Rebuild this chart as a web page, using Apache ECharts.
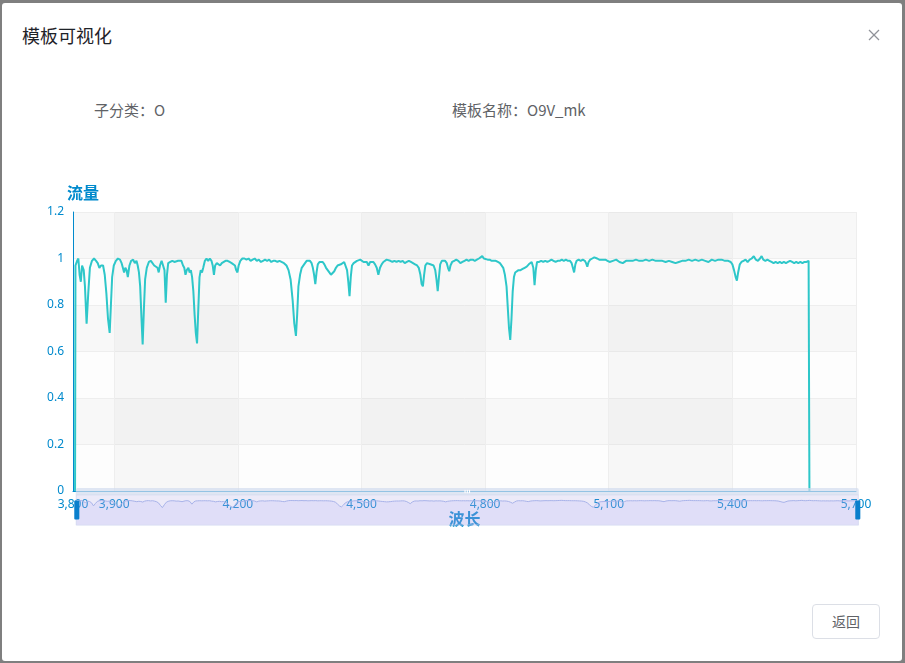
<!DOCTYPE html>
<html>
<head>
<meta charset="utf-8">
<script src="https://cdn.jsdelivr.net/npm/echarts@6/dist/echarts.min.js"></script>
<style>
html,body{margin:0;padding:0;width:905px;height:663px;overflow:hidden;background:#7f7f7f;}
#modal{position:absolute;left:2px;top:3px;width:900px;height:658px;background:#fff;border-radius:3px;}
#title{position:absolute;left:20px;top:19px;font-family:"Noto Sans CJK SC",sans-serif;font-weight:400;font-size:18px;color:#1f2329;line-height:26px;}
#close{position:absolute;left:866px;top:26px;width:12px;height:12px;}
.info{position:absolute;top:96px;font-family:"Noto Sans CJK SC",sans-serif;font-size:15px;color:#606266;line-height:22px;}
#btn{position:absolute;left:810px;top:601px;width:68px;height:35px;box-sizing:border-box;border:1px solid #dcdfe6;border-radius:4px;font-family:"Noto Sans CJK SC",sans-serif;font-size:14px;color:#606266;text-align:center;line-height:33px;}
#chart{position:absolute;left:0;top:0;width:905px;height:663px;}
</style>
</head>
<body>
<div id="modal">
  <div id="title">模板可视化</div>
  <svg id="close" viewBox="0 0 12 12"><line x1="1" y1="1" x2="11" y2="11" stroke="#909399" stroke-width="1.2"/><line x1="11" y1="1" x2="1" y2="11" stroke="#909399" stroke-width="1.2"/></svg>
  <div class="info" style="left:92px;">子分类：O</div>
  <div class="info" style="left:450px;">模板名称：O9V_mk</div>
  <div id="btn">返回</div>
</div>
<div id="chart"></div>
<script>
var seriesName = "O9V_mk";
var xAxisName = "波长";
var yAxisName = "流量";
var xMin = 3800, xMax = 5700;
var yMin = 0, yMax = 1.2, yStep = 0.2;

var wavelength = [
3805,3806,3810,3813,3816,3819,3822,3826,3829,3833,3837,3841,3846,3851,3856,3860,3864,3868,3873,3877,
3881,3885,3889,3892,3895,3899,3904,3909,3914,3918,3921,3924,3927,3930,3933,3937,3941,3946,3950,3954,
3957,3960,3963,3966,3969,3972,3975,3979,3984,3989,3993,3997,4001,4005,4008,4011,4015,4019,4022,4025,
4028,4031,4036,4041,4046,4050,4055,4059,4063,4067,4070,4073,4076,4080,4083,4086,4089,4092,4095,4098,
4101,4104,4107,4110,4113,4116,4120,4124,4128,4132,4136,4139,4142,4145,4149,4153,4157,4161,4165,4170,
4175,4180,4185,4189,4193,4196,4199,4202,4206,4211,4216,4221,4226,4231,4236,4241,4246,4251,4256,4261,
4266,4271,4276,4281,4286,4291,4296,4301,4305,4312,4318,4323,4328,4333,4337,4341,4344,4347,4351,4355,
4359,4363,4367,4371,4375,4379,4382,4385,4388,4391,4394,4398,4402,4406,4410,4414,4418,4422,4426,4430,
4434,4438,4442,4446,4450,4454,4458,4462,4465,4468,4471,4474,4477,4481,4485,4489,4493,4497,4501,4505,
4509,4513,4517,4521,4525,4529,4533,4537,4541,4545,4549,4553,4557,4561,4565,4570,4575,4580,4585,4590,
4595,4600,4605,4610,4615,4620,4625,4630,4635,4639,4643,4646,4649,4652,4655,4659,4663,4667,4671,4675,
4679,4682,4685,4688,4691,4695,4699,4703,4707,4710,4713,4716,4720,4725,4730,4735,4740,4745,4750,4755,
4760,4765,4770,4775,4780,4785,4789,4793,4797,4801,4806,4811,4816,4821,4826,4831,4836,4840,4844,4848,
4852,4855,4858,4861,4864,4867,4870,4873,4877,4881,4886,4891,4896,4901,4906,4909,4913,4917,4920,4923,
4926,4931,4936,4941,4946,4951,4956,4961,4966,4971,4976,4981,4986,4991,4996,5001,5006,5010,5013,5016,
5019,5022,5027,5032,5037,5042,5045,5048,5051,5055,5060,5065,5068,5072,5077,5082,5087,5092,5097,5102,
5110,5118,5126,5134,5142,5150,5158,5166,5174,5182,5190,5198,5206,5214,5222,5230,5238,5246,5254,5262,
5270,5278,5286,5294,5302,5310,5318,5326,5334,5342,5350,5358,5366,5374,5382,5390,5396,5400,5404,5408,
5411,5414,5418,5422,5427,5432,5437,5442,5447,5452,5457,5462,5467,5471,5475,5480,5485,5490,5495,5500,
5505,5510,5515,5520,5525,5530,5535,5540,5545,5550,5555,5560,5565,5570,5575,5580,5585,5586,5587
];
var flux = [
0,0.97,0.99,1.0,0.93,0.90,0.97,0.95,0.88,0.72,0.85,0.96,0.99,1.0,0.99,0.98,0.96,0.97,0.97,0.93,
0.85,0.74,0.68,0.80,0.92,0.97,0.99,1.0,0.995,0.98,0.96,0.94,0.96,0.95,0.92,0.97,0.99,0.995,0.98,0.99,
0.97,0.94,0.88,0.75,0.63,0.78,0.91,0.96,0.985,0.99,0.985,0.97,0.975,0.96,0.94,0.97,0.99,0.99,0.95,0.81,
0.93,0.98,0.985,0.99,0.985,0.99,0.99,0.985,0.99,0.97,0.96,0.93,0.95,0.96,0.94,0.95,0.92,0.86,0.76,0.68,
0.635,0.78,0.92,0.95,0.94,0.96,0.99,1.0,0.99,1.0,0.99,0.97,0.93,0.97,0.98,0.985,0.97,0.98,0.985,0.99,
0.99,0.985,0.98,0.98,0.97,0.95,0.94,0.97,0.99,1.0,1.0,0.995,1.0,0.99,0.995,1.0,0.99,0.995,0.985,0.99,
0.995,0.99,0.995,0.985,0.99,0.99,0.985,0.99,0.985,0.98,0.97,0.95,0.91,0.82,0.72,0.667,0.76,0.88,0.93,0.96,
0.955,0.98,0.99,0.985,0.99,0.98,0.96,0.93,0.89,0.94,0.975,0.985,0.98,0.985,0.975,0.96,0.95,0.94,0.93,0.935,
0.945,0.96,0.97,0.975,0.975,0.98,0.985,0.98,0.95,0.90,0.838,0.92,0.97,0.98,0.975,0.99,0.985,0.995,0.99,0.985,
0.98,0.985,0.97,0.985,0.98,0.985,0.975,0.96,0.93,0.96,0.975,0.985,0.99,0.995,0.995,0.99,0.985,0.99,0.985,0.99,
0.985,0.99,0.98,0.985,0.99,0.985,0.98,0.975,0.97,0.96,0.93,0.89,0.88,0.93,0.97,0.98,0.985,0.975,0.98,0.97,
0.95,0.91,0.86,0.92,0.975,0.99,0.985,0.99,0.98,0.96,0.945,0.97,0.985,0.99,0.995,0.99,0.98,0.985,0.99,0.995,
0.99,0.995,0.995,0.99,0.995,1.0,1.005,1.01,1.0,0.995,0.995,0.995,0.99,0.99,0.99,0.985,0.98,0.975,0.96,0.93,
0.88,0.79,0.70,0.65,0.74,0.86,0.92,0.94,0.945,0.95,0.95,0.955,0.96,0.965,0.975,0.97,0.985,0.96,0.885,0.95,
0.985,0.985,0.99,0.985,0.99,0.985,0.99,0.995,0.99,0.985,0.99,0.99,0.995,0.99,0.995,0.99,0.99,0.98,0.96,0.94,
0.975,0.99,0.995,0.99,0.995,0.99,0.98,0.965,0.985,0.995,1.0,1.005,1.012,1.0,0.995,0.995,0.995,0.995,0.99,0.985,
0.99,0.995,0.985,0.98,0.99,0.99,0.99,0.995,0.99,0.99,0.995,0.99,0.995,0.99,0.99,0.99,0.985,0.99,0.985,0.98,
0.985,0.99,0.99,0.995,0.99,0.995,0.99,0.995,0.99,0.985,0.995,0.99,0.995,0.995,0.99,0.99,0.985,0.975,0.95,0.92,
0.905,0.94,0.975,0.985,0.99,0.995,0.985,0.995,1.0,1.01,0.995,0.99,1.0,1.01,0.995,0.99,0.995,0.99,0.985,0.98,
0.985,0.98,0.985,0.98,0.985,0.98,0.985,0.99,0.985,0.98,0.985,0.98,0.985,0.98,0.985,0.985,0.99,0.99,0
];

var seriesData = wavelength.map(function (w, i) { return [w, flux[i]]; });
var blue = '#008acd';
var chart = echarts.init(document.getElementById('chart'), null, {renderer: 'canvas'});
chart.setOption({
  backgroundColor: 'transparent',
  animation: false,
  grid: {left: 73, right: 49, top: 212, bottom: 172, containLabel: false},
  xAxis: {
    type: 'value', min: xMin, max: xMax,
    name: xAxisName, nameLocation: 'middle', nameGap: 20, nameMoveOverlap: false,
    nameTextStyle: {color: blue, fontSize: 16, fontWeight: 'bold', fontFamily: 'Noto Sans CJK SC'},
    axisLine: {show: true, lineStyle: {color: blue, width: 1}},
    axisTick: {show: false},
    axisLabel: {color: blue, fontSize: 12, margin: 8, fontFamily: 'Noto Sans'},
    splitLine: {show: true, lineStyle: {color: '#eeeeee'}},
    splitArea: {show: true, areaStyle: {color: ['rgba(250,250,250,0.1)', 'rgba(200,200,200,0.12)']}}
  },
  yAxis: {
    type: 'value', min: yMin, max: yMax, interval: yStep,
    name: yAxisName, nameGap: 11, nameMoveOverlap: false,
    nameTextStyle: {color: blue, fontSize: 16, fontWeight: 'bold', fontFamily: 'Noto Sans CJK SC', padding: [0, 0, 0, 20]},
    axisLine: {show: true, lineStyle: {color: blue, width: 1}},
    axisTick: {show: false},
    axisLabel: {color: blue, fontSize: 12, margin: 9, fontFamily: 'Noto Sans'},
    splitLine: {show: true, lineStyle: {color: '#eeeeee'}},
    splitArea: {show: true, areaStyle: {color: ['rgba(250,250,250,0.1)', 'rgba(200,200,200,0.12)']}}
  },
  dataZoom: [{
    type: 'slider', xAxisIndex: 0, start: 0, end: 100,
    left: 73, right: 49, bottom: 144, height: 31,
    backgroundColor: 'rgba(0,0,0,0)',
    borderColor: 'rgba(210,219,238,0.6)',
    fillerColor: 'rgba(160,150,220,0.2)',
    showDetail: false,
    handleIcon: 'path://M1,0 H4 Q5,0 5,1 V18 Q5,19 4,19 H1 Q0,19 0,18 V1 Q0,0 1,0 Z',
    handleSize: '62%',
    handleStyle: {color: '#0a7fcc', borderColor: '#0a7fcc', borderWidth: 0},
    moveHandleStyle: {color: '#D2DBEE', opacity: 0.7},
    dataBackground: {lineStyle: {color: '#a9b9ec', width: 1, opacity: 1}, areaStyle: {color: 'rgba(180,180,250,0.2)', opacity: 1}},
    selectedDataBackground: {lineStyle: {color: '#a9b9ec', width: 1, opacity: 1}, areaStyle: {color: 'rgba(180,180,250,0.2)', opacity: 1}}
  }],
  series: [{
    name: seriesName, type: 'line', data: seriesData,
    showSymbol: false, symbol: 'none',
    lineStyle: {color: '#2ec7c9', width: 2},
    itemStyle: {color: '#2ec7c9'}
  }]
});
</script>
</body>
</html>
